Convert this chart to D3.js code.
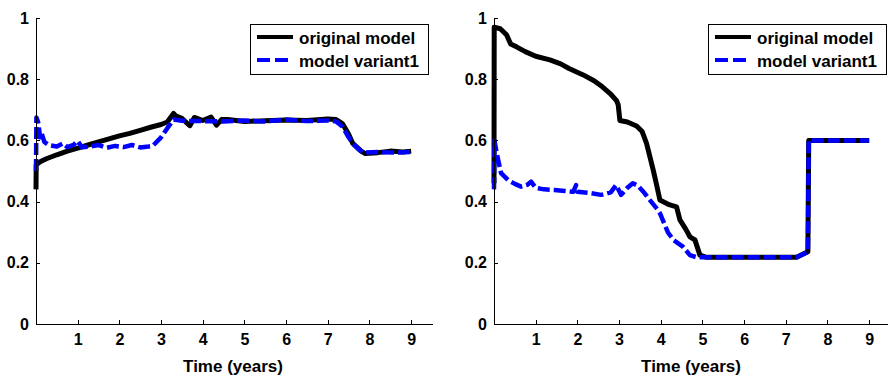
<!DOCTYPE html>
<html>
<head>
<meta charset="utf-8">
<script src="https://cdn.jsdelivr.net/npm/d3@7"></script>
<style>
  html, body { margin: 0; padding: 0; background: #fff; }
  svg { display: block; }
  text { font-family: "Liberation Sans", Arial, Helvetica, sans-serif; font-weight: bold; fill: #000; }
</style>
</head>
<body>
<svg id="chart" width="888" height="377"></svg>
<script>
// Series: [time in years, value]
const leftOriginal = [
  [0, 0.44], [0.005, 0.52], [0.1, 0.53], [0.25, 0.54], [0.5, 0.553], [0.75, 0.565],
  [1.0, 0.575], [1.25, 0.585], [1.5, 0.595], [1.75, 0.605], [2.0, 0.615], [2.25, 0.623],
  [2.5, 0.633], [2.75, 0.643], [3.0, 0.652], [3.15, 0.66], [3.3, 0.688], [3.35, 0.68],
  [3.5, 0.672], [3.69, 0.648], [3.8, 0.675], [4.0, 0.665], [4.2, 0.676], [4.33, 0.65],
  [4.45, 0.668], [4.6, 0.668], [5.0, 0.662], [5.5, 0.664], [6.0, 0.667], [6.5, 0.665],
  [7.0, 0.67], [7.2, 0.668], [7.35, 0.655], [7.5, 0.62], [7.6, 0.59], [7.8, 0.565],
  [7.9, 0.557], [8.2, 0.56], [8.5, 0.565], [8.8, 0.562], [9.0, 0.565]
];
const leftVariant = [
  [0, 0.5], [0.01, 0.675], [0.05, 0.66], [0.1, 0.61], [0.13, 0.625], [0.2, 0.595],
  [0.3, 0.585], [0.5, 0.58], [0.65, 0.59], [0.75, 0.578], [0.9, 0.585], [1.0, 0.598],
  [1.1, 0.578], [1.3, 0.58], [1.5, 0.585], [1.7, 0.576], [1.9, 0.582], [2.1, 0.578],
  [2.3, 0.585], [2.5, 0.577], [2.7, 0.58], [2.8, 0.582], [3.0, 0.61], [3.15, 0.64],
  [3.3, 0.668], [3.5, 0.664], [4.0, 0.663], [4.5, 0.662], [5.0, 0.665], [5.5, 0.662],
  [6.0, 0.668], [6.5, 0.663], [7.0, 0.665], [7.2, 0.662], [7.35, 0.645], [7.5, 0.61],
  [7.6, 0.59], [7.75, 0.57], [7.85, 0.56], [8.2, 0.562], [8.6, 0.56], [9.0, 0.562]
];
const rightOriginal = [
  [0, 0.46], [0.005, 0.97], [0.15, 0.965], [0.3, 0.945], [0.4, 0.915], [0.55, 0.905],
  [0.75, 0.89], [1.0, 0.875], [1.34, 0.863], [1.6, 0.85], [1.8, 0.835], [2.14, 0.814],
  [2.4, 0.795], [2.6, 0.775], [2.78, 0.754], [2.94, 0.73], [2.98, 0.716], [3.02, 0.665],
  [3.2, 0.66], [3.42, 0.647], [3.55, 0.63], [3.66, 0.59], [3.82, 0.503], [3.9, 0.455],
  [3.98, 0.405], [4.2, 0.39], [4.38, 0.383], [4.46, 0.34], [4.6, 0.31], [4.7, 0.285],
  [4.82, 0.275], [4.94, 0.225], [5.1, 0.218], [6.0, 0.218], [7.0, 0.218], [7.26, 0.218],
  [7.53, 0.236], [7.55, 0.6], [8.0, 0.6], [9.0, 0.6]
];
const rightVariant = [
  [0, 0.44], [0.01, 0.6], [0.05, 0.57], [0.1, 0.536], [0.17, 0.493], [0.34, 0.47],
  [0.5, 0.458], [0.65, 0.449], [0.8, 0.455], [0.89, 0.465], [1.0, 0.445], [1.2, 0.44],
  [1.45, 0.438], [1.7, 0.435], [1.9, 0.432], [1.97, 0.454], [2.0, 0.432], [2.3, 0.428],
  [2.57, 0.422], [2.8, 0.43], [2.93, 0.454], [3.05, 0.422], [3.2, 0.445], [3.33, 0.46],
  [3.45, 0.452], [3.61, 0.428], [3.74, 0.405], [3.93, 0.373], [3.98, 0.362], [4.17, 0.3],
  [4.3, 0.275], [4.53, 0.253], [4.7, 0.225], [4.86, 0.218], [6.0, 0.218], [7.26, 0.218],
  [7.53, 0.236], [7.55, 0.6], [8.0, 0.6], [9.0, 0.6]
];

const seriesNames = ["original model", "model variant1"];
const xTicks = [1, 2, 3, 4, 5, 6, 7, 8, 9];
const yTicks = [0, 0.2, 0.4, 0.6, 0.8, 1];
const yTickLabels = ["0", "0.2", "0.4", "0.6", "0.8", "1"];
const xLabel = "Time (years)";

const svg = d3.select("#chart");
const styles = [
  { color: "#000000", dash: null, width: 5 },
  { color: "#0000ff", dash: "12,4", width: 4.5 }
];

function drawPanel(left, series) {
  const x = d3.scaleLinear().domain([0, 9.5]).range([left, left + 396]);
  const y = d3.scaleLinear().domain([0, 1]).range([324, 18]);
  const g = svg.append("g");

  const line = d3.line().x(d => x(d[0])).y(d => y(d[1]));
  series.forEach((s, i) => {
    g.append("path")
      .attr("d", line(s))
      .attr("fill", "none")
      .attr("stroke", styles[i].color)
      .attr("stroke-width", styles[i].width)
      .attr("stroke-linejoin", "round")
      .attr("stroke-dasharray", styles[i].dash);
  });

  const xAxis = g.append("g")
    .attr("transform", `translate(0,${y(0)})`)
    .call(d3.axisBottom(x).tickValues(xTicks).tickFormat(d3.format("d"))
      .tickSizeInner(-4).tickSizeOuter(0).tickPadding(10));
  const yAxis = g.append("g")
    .attr("transform", `translate(${x(0)},0)`)
    .call(d3.axisLeft(y).tickValues(yTicks).tickFormat((d, i) => yTickLabels[i])
      .tickSizeInner(-4).tickSizeOuter(0).tickPadding(7));
  [xAxis, yAxis].forEach(a => {
    a.selectAll("path, line").attr("stroke", "#000").attr("stroke-width", 1)
      .attr("shape-rendering", "crispEdges");
    a.selectAll("text").style("font-size", "16px")
      .style("font-family", "'Liberation Sans', Arial, sans-serif")
      .style("font-weight", "bold").attr("fill", "#000");
  });

  g.append("text")
    .attr("x", (x(0) + x(9.5)) / 2 - 1)
    .attr("y", 372)
    .attr("text-anchor", "middle")
    .style("font-size", "17px")
    .text(xLabel);

  // legend box anchored to the top-right corner of the axes
  const bx = x(9.5) - 182, by = 24;
  const lg = g.append("g").attr("transform", `translate(${bx},${by})`);
  lg.append("rect").attr("width", 178).attr("height", 50)
    .attr("fill", "#fff").attr("stroke", "#000").attr("stroke-width", 1)
    .attr("shape-rendering", "crispEdges");
  seriesNames.forEach((name, i) => {
    const ry = 13 + i * 23;
    lg.append("line").attr("x1", 7).attr("x2", 43).attr("y1", ry).attr("y2", ry)
      .attr("stroke", styles[i].color).attr("stroke-width", 4)
      .attr("stroke-dasharray", i === 1 ? "13,5" : null);
    lg.append("text").attr("x", 49).attr("y", ry + 7)
      .style("font-size", "17px").text(name);
  });
}

drawPanel(36, [leftOriginal, leftVariant]);
drawPanel(494, [rightOriginal, rightVariant]);
</script>
</body>
</html>
